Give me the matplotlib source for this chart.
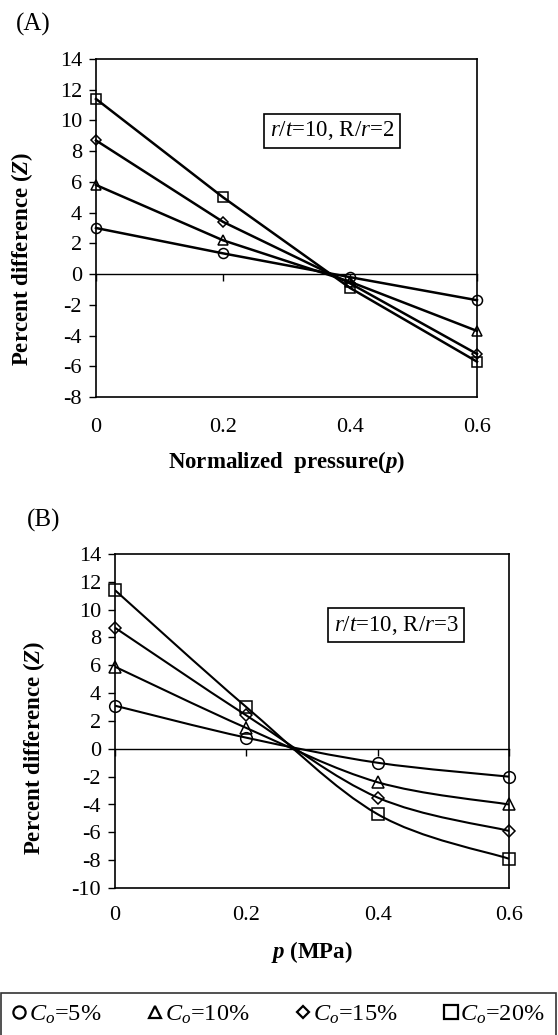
import numpy as np
import matplotlib
matplotlib.use("Agg")
import matplotlib.pyplot as plt
from matplotlib.path import Path
from matplotlib.patches import PathPatch
from matplotlib.lines import Line2D

plt.rcParams['font.family'] = ['Liberation Serif', 'DejaVu Serif']
plt.rcParams['mathtext.fontset'] = 'custom'
plt.rcParams['mathtext.rm'] = 'Liberation Serif'
plt.rcParams['mathtext.it'] = 'Liberation Serif:italic'
plt.rcParams['mathtext.bf'] = 'Liberation Serif:bold'
plt.rcParams['mathtext.bfit'] = 'Liberation Serif:bold:italic'
plt.rcParams['axes.unicode_minus'] = False

# data
p = [0.0, 0.2, 0.4, 0.6]
series_labels = [r'$C_o$=5%', r'$C_o$=10%', r'$C_o$=15%', r'$C_o$=20%']

# (A) r/t=10, R/r=2
zA_5 = [3.0, 1.35, -0.2, -1.7]
zA_10 = [5.8, 2.2, -0.5, -3.7]
zA_15 = [8.7, 3.4, -0.6, -5.2]
zA_20 = [11.4, 5.0, -0.9, -5.7]

# (B) r/t=10, R/r=3
zB_5 = [3.1, 0.8, -1.0, -2.0]
zB_10 = [5.9, 1.5, -2.4, -4.0]
zB_15 = [8.7, 2.4, -3.5, -5.9]
zB_20 = [11.4, 3.0, -4.7, -7.9]

markers = ['o', '^', 'D', 's']
msizes = [8, 8.5, 5.5, 8.6]

TICK_FS = 16
LABEL_FS = 16.5

fig = plt.figure(figsize=(5.58, 10.35), dpi=100)
axA = fig.add_axes([96/558, 1-397/1035, 381/558, 338/1035])
axB = fig.add_axes([115/558, 1-888/1035, 394/558, 334/1035])


def smooth_path(x, y):
    # excel-like smoothed line: cubic bezier through the points
    pts = np.column_stack([x, y])
    n = len(pts)
    verts = [pts[0]]
    codes = [Path.MOVETO]
    for i in range(n - 1):
        p0 = pts[max(i - 1, 0)]
        p1 = pts[i]
        p2 = pts[i + 1]
        p3 = pts[min(i + 2, n - 1)]
        c1 = p1 + (p2 - p0) / 6.0
        c2 = p2 - (p3 - p1) / 6.0
        verts += [c1, c2, p2]
        codes += [Path.CURVE4] * 3
    return Path(verts, codes)


def style_axes(ax, ymin, ymax, pad):
    ax.set_xlim(0, 0.6)
    ax.set_ylim(ymin, ymax)
    ax.set_xticks(p)
    ax.set_xticklabels(['0', '0.2', '0.4', '0.6'])
    yt = list(range(ymin, ymax + 1, 2))
    ax.set_yticks(yt)
    ax.set_yticklabels([str(v) for v in yt])
    ax.tick_params(axis='x', length=0, pad=pad, labelsize=TICK_FS)
    ax.tick_params(axis='y', direction='out', length=5, width=1, pad=5, labelsize=TICK_FS)
    for s in ax.spines.values():
        s.set_linewidth(1.2)
    # zero line with its own tick marks
    zero = (0 - ymin) / (ymax - ymin)
    sec = ax.secondary_xaxis(zero)
    sec.set_xticks(p)
    sec.xaxis.set_ticks_position('bottom')
    sec.tick_params(axis='x', direction='out', length=5, width=1, labelbottom=False, labeltop=False)
    sec.spines['bottom'].set_linewidth(1.0)


# panel A: straight segments
for z, m, ms in zip([zA_5, zA_10, zA_15, zA_20], markers, msizes):
    axA.plot(p, z, color='k', lw=1.8, marker=m, ms=ms * 0.9, mfc='none', mec='k', mew=1.1, clip_on=False, zorder=3)
style_axes(axA, -8, 14, 15)
axA.set_ylabel(r'Percent difference ($\mathbfit{Z}$)', fontsize=LABEL_FS, fontweight='bold')
axA.yaxis.set_label_coords(-0.16, 0.41)
axA.set_xlabel(r'Normalized  pressure($\mathbfit{p}$)', fontsize=LABEL_FS, fontweight='bold', labelpad=9)
axA.text(0.62, 0.787, r'$r/t$=10, R/$r$=2', transform=axA.transAxes, fontsize=16.5,
         ha='center', va='center', bbox=dict(boxstyle='square,pad=0.25', fc='white', ec='k', lw=1.2))
fig.text(33/558, 1-24/1035, '(A)', fontsize=18, ha='center', va='center')

# panel B: smoothed lines
for z, m, ms in zip([zB_5, zB_10, zB_15, zB_20], markers, msizes):
    axB.add_patch(PathPatch(smooth_path(p, z), fc='none', ec='k', lw=1.5, zorder=2))
    axB.plot(p, z, ls='none', marker=m, ms=ms * 1.05, mfc='none', mec='k', mew=1.1, clip_on=False, zorder=3)
style_axes(axB, -10, 14, 13)
axB.set_ylabel(r'Percent difference ($\mathbfit{Z}$)', fontsize=LABEL_FS, fontweight='bold')
axB.yaxis.set_label_coords(-0.173, 0.42)
axB.set_xlabel(r'$\mathbfit{p}$ (MPa)', fontsize=LABEL_FS, fontweight='bold', labelpad=10)
axB.text(0.713, 0.787, r'$r/t$=10, R/$r$=3', transform=axB.transAxes, fontsize=16.5,
         ha='center', va='center', bbox=dict(boxstyle='square,pad=0.25', fc='white', ec='k', lw=1.2))
fig.text(44/558, 1-520/1035, '(B)', fontsize=18, ha='center', va='center')

# legend
handles = [Line2D([], [], ls='none', marker=m, ms=ms * 1.1, mfc='none', mec='k', mew=1.6)
           for m, ms in zip(markers, msizes)]
leg = fig.legend(handles, series_labels, loc='upper center', ncol=4,
                 bbox_to_anchor=(0.002, 1-993/1035 - 0.1, 0.994, 0.1), mode='expand',
                 borderaxespad=0, fontsize=17.5, frameon=True, fancybox=False,
                 handlelength=0.6, handletextpad=0.1, borderpad=0.45)
leg.get_frame().set_edgecolor('k')
leg.get_frame().set_linewidth(1.2)

fig.savefig('out.png', dpi=100)
